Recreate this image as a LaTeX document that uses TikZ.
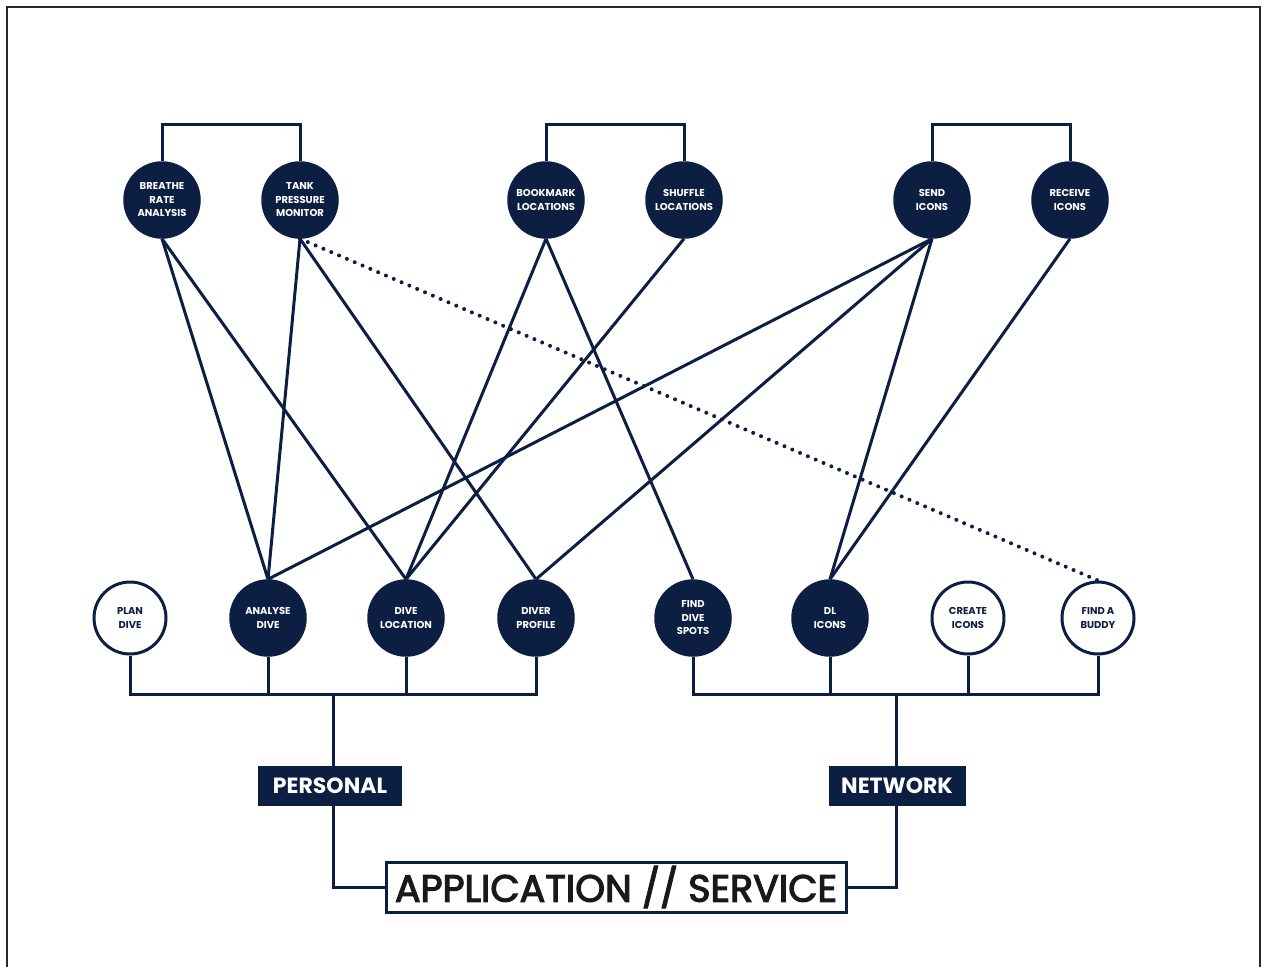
\documentclass[tikz,border=0pt]{standalone}
\usepackage{fontspec}
\setmainfont{Poppins}
\newfontfamily\headfont[FakeBold=3]{Poppins}
\begin{document}
\begin{tikzpicture}[x=1pt,y=-1pt,
  fun/.style={circle,minimum size=76pt,inner sep=0pt,fill=ink,draw=ink,line width=1.5pt,
    text=white,font=\fontsize{10}{13.5}\selectfont\bfseries,align=center},
  idle/.style={circle,minimum size=72pt,inner sep=0pt,fill=white,draw=ink,line width=3pt,
    text=ink,font=\fontsize{10}{13.5}\selectfont\bfseries,align=center},
  tag/.style={fill=ink,text=white,minimum width=144pt,minimum height=40pt,inner sep=0pt,
    font=\fontsize{22}{24}\selectfont\bfseries},
  wire/.style={draw=ink,line width=3pt},
  link/.style={draw=ink,line width=3pt},
  hint/.style={draw=ink,line width=4pt,line cap=round,dash pattern=on 0pt off 8.5pt}
]
\definecolor{ink}{HTML}{0C1E42}
\useasboundingbox (0,0) rectangle (1262,967);
\draw[line width=2pt,black!85] (7,975) -- (7,7) -- (1260,7) -- (1260,975);

% top row
\node[fun] (bra) at (162,200) {BREATHE\\RATE\\ANALYSIS};
\node[fun] (tpm) at (300,200) {TANK\\PRESSURE\\MONITOR};
\node[fun] (bl)  at (546,200) {BOOKMARK\\LOCATIONS};
\node[fun] (sl)  at (684,200) {SHUFFLE\\LOCATIONS};
\node[fun] (si)  at (932,200) {SEND\\ICONS};
\node[fun] (ri)  at (1070,200) {RECEIVE\\ICONS};

% bottom row
\node[idle] (pd) at (130,618) {PLAN\\DIVE};
\node[fun]  (ad) at (268,618) {ANALYSE\\DIVE};
\node[fun]  (dl) at (406,618) {DIVE\\LOCATION};
\node[fun]  (dp) at (536,618) {DIVER\\PROFILE};
\node[fun]  (fs) at (693,618) {FIND\\DIVE\\SPOTS};
\node[fun]  (di) at (830,618) {DL\\ICONS};
\node[idle] (ci) at (968,618) {CREATE\\ICONS};
\node[idle] (fb) at (1098,618) {FIND A\\BUDDY};

% category boxes
\node[tag] (per) at (330,786) {PERSONAL};
\node[tag,minimum width=137pt] (net) at (897,786) {NETWORK};
\node[draw=ink,line width=3pt,fill=white,minimum width=460pt,minimum height=50pt,inner sep=0pt,
  font=\headfont\fontsize{38}{40}\selectfont,text=black!90] (app) at (616,887) {APPLICATION // SERVICE};

% brackets joining the pairs
\foreach \a/\b in {bra/tpm,bl/sl,si/ri}
  \draw[wire] (\a.north) -- ++(0,-37) -| (\b.north);

% feature links
\foreach \a/\b in {bra/ad,bra/dl,tpm/ad,tpm/dp,bl/dl,bl/fs,sl/dl,si/ad,si/dp,si/di,ri/di}
  \draw[link] (\a.south) -- (\b.north);
\draw[hint] (tpm.south) -- (fb.north);

% buses
\coordinate (pj) at (333,694);
\coordinate (nj) at (896,694);
\draw[wire] (pd.south) |- (pj);
\draw[wire] (ad.south) -- (ad.south |- pj);
\draw[wire] (dl.south) -- (dl.south |- pj);
\draw[wire] (dp.south) |- (pj);
\draw[wire] (fs.south) |- (nj);
\draw[wire] (di.south) -- (di.south |- nj);
\draw[wire] (ci.south) -- (ci.south |- nj);
\draw[wire] (fb.south) |- (nj);
\draw[wire] (pj) -- (pj |- per.north);
\draw[wire] (nj) -- (nj |- net.north);
\draw[wire] (pj |- per.south) |- (app.west);
\draw[wire] (nj |- net.south) |- (app.east);
\end{tikzpicture}
\end{document}
